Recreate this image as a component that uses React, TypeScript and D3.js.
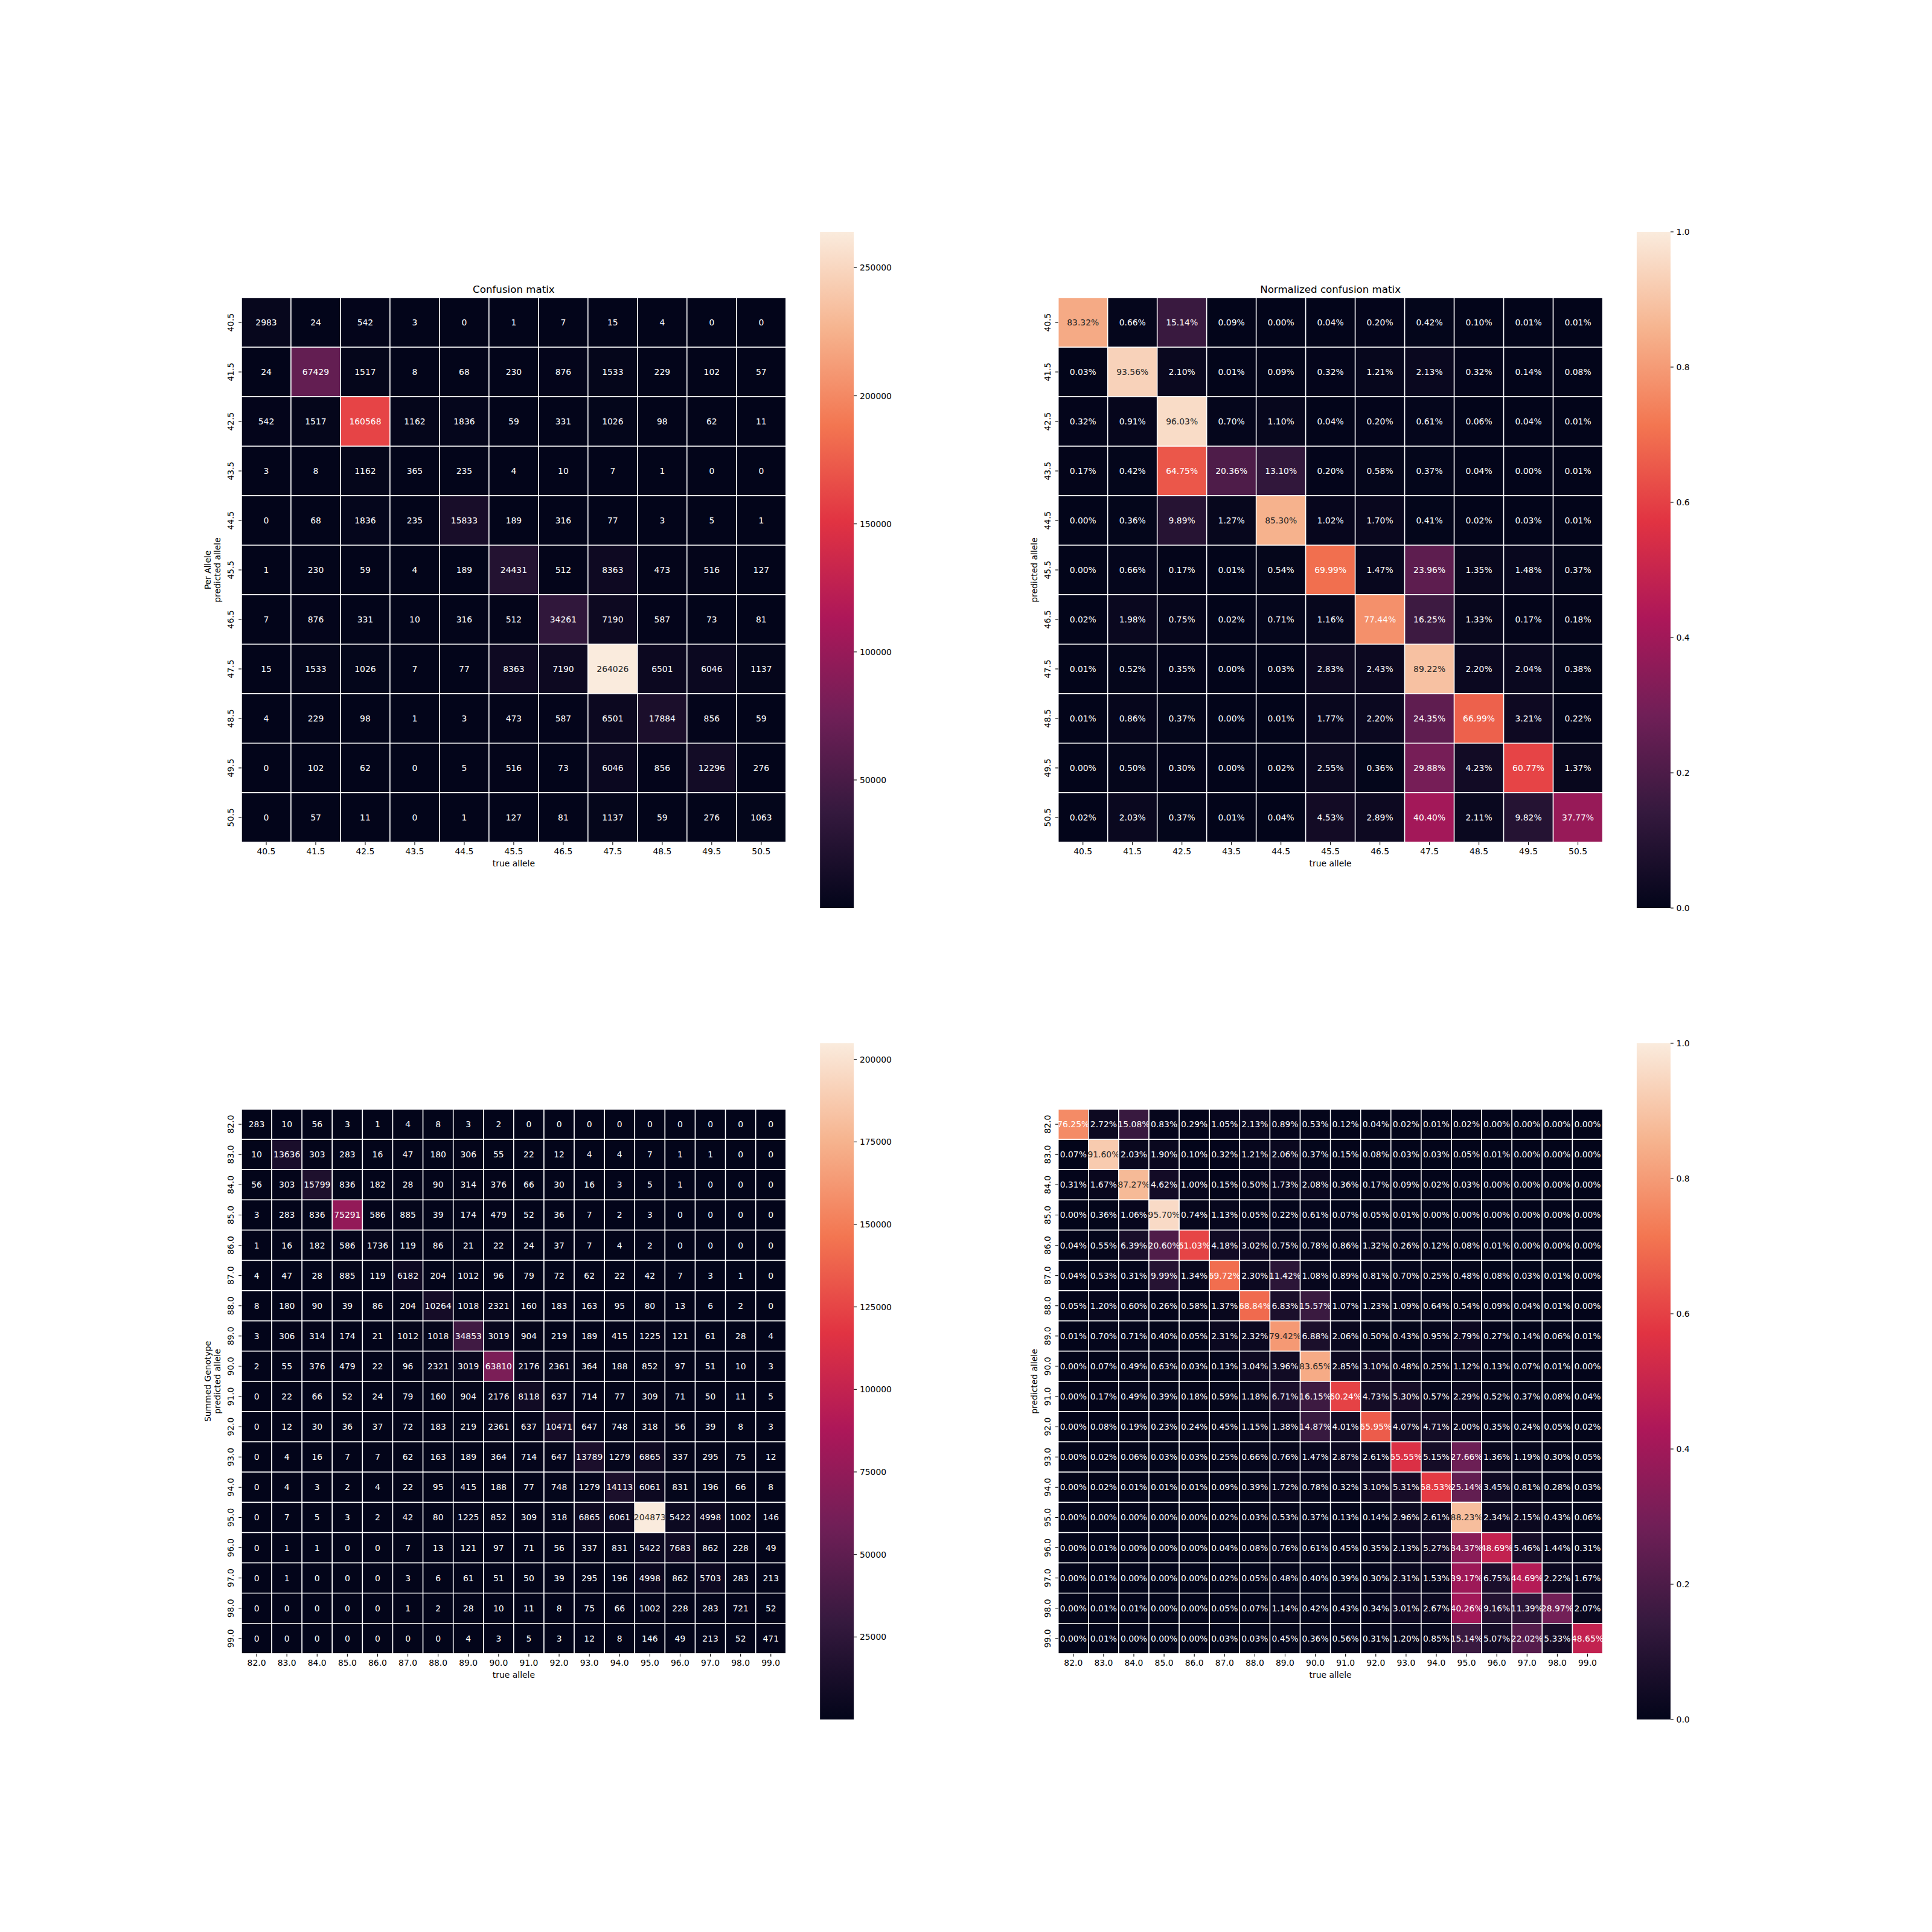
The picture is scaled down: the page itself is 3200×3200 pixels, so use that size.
import React from 'react';
import * as d3 from 'd3';

// allele bins
const perAlleleLabels = ['40.5', '41.5', '42.5', '43.5', '44.5', '45.5', '46.5', '47.5', '48.5', '49.5', '50.5'];
const summedLabels = ['82.0', '83.0', '84.0', '85.0', '86.0', '87.0', '88.0', '89.0', '90.0',
  '91.0', '92.0', '93.0', '94.0', '95.0', '96.0', '97.0', '98.0', '99.0'];

// rows = predicted allele, columns = true allele
const perAlleleCounts = [
  [2983, 24, 542, 3, 0, 1, 7, 15, 4, 0, 0],
  [24, 67429, 1517, 8, 68, 230, 876, 1533, 229, 102, 57],
  [542, 1517, 160568, 1162, 1836, 59, 331, 1026, 98, 62, 11],
  [3, 8, 1162, 365, 235, 4, 10, 7, 1, 0, 0],
  [0, 68, 1836, 235, 15833, 189, 316, 77, 3, 5, 1],
  [1, 230, 59, 4, 189, 24431, 512, 8363, 473, 516, 127],
  [7, 876, 331, 10, 316, 512, 34261, 7190, 587, 73, 81],
  [15, 1533, 1026, 7, 77, 8363, 7190, 264026, 6501, 6046, 1137],
  [4, 229, 98, 1, 3, 473, 587, 6501, 17884, 856, 59],
  [0, 102, 62, 0, 5, 516, 73, 6046, 856, 12296, 276],
  [0, 57, 11, 0, 1, 127, 81, 1137, 59, 276, 1063],
];

// percentages
const perAlleleNorm = [
  [83.32, 0.66, 15.14, 0.09, 0.00, 0.04, 0.20, 0.42, 0.10, 0.01, 0.01],
  [0.03, 93.56, 2.10, 0.01, 0.09, 0.32, 1.21, 2.13, 0.32, 0.14, 0.08],
  [0.32, 0.91, 96.03, 0.70, 1.10, 0.04, 0.20, 0.61, 0.06, 0.04, 0.01],
  [0.17, 0.42, 64.75, 20.36, 13.10, 0.20, 0.58, 0.37, 0.04, 0.00, 0.01],
  [0.00, 0.36, 9.89, 1.27, 85.30, 1.02, 1.70, 0.41, 0.02, 0.03, 0.01],
  [0.00, 0.66, 0.17, 0.01, 0.54, 69.99, 1.47, 23.96, 1.35, 1.48, 0.37],
  [0.02, 1.98, 0.75, 0.02, 0.71, 1.16, 77.44, 16.25, 1.33, 0.17, 0.18],
  [0.01, 0.52, 0.35, 0.00, 0.03, 2.83, 2.43, 89.22, 2.20, 2.04, 0.38],
  [0.01, 0.86, 0.37, 0.00, 0.01, 1.77, 2.20, 24.35, 66.99, 3.21, 0.22],
  [0.00, 0.50, 0.30, 0.00, 0.02, 2.55, 0.36, 29.88, 4.23, 60.77, 1.37],
  [0.02, 2.03, 0.37, 0.01, 0.04, 4.53, 2.89, 40.40, 2.11, 9.82, 37.77],
];

const summedCounts = [
  [283, 10, 56, 3, 1, 4, 8, 3, 2, 0, 0, 0, 0, 0, 0, 0, 0, 0],
  [10, 13636, 303, 283, 16, 47, 180, 306, 55, 22, 12, 4, 4, 7, 1, 1, 0, 0],
  [56, 303, 15799, 836, 182, 28, 90, 314, 376, 66, 30, 16, 3, 5, 1, 0, 0, 0],
  [3, 283, 836, 75291, 586, 885, 39, 174, 479, 52, 36, 7, 2, 3, 0, 0, 0, 0],
  [1, 16, 182, 586, 1736, 119, 86, 21, 22, 24, 37, 7, 4, 2, 0, 0, 0, 0],
  [4, 47, 28, 885, 119, 6182, 204, 1012, 96, 79, 72, 62, 22, 42, 7, 3, 1, 0],
  [8, 180, 90, 39, 86, 204, 10264, 1018, 2321, 160, 183, 163, 95, 80, 13, 6, 2, 0],
  [3, 306, 314, 174, 21, 1012, 1018, 34853, 3019, 904, 219, 189, 415, 1225, 121, 61, 28, 4],
  [2, 55, 376, 479, 22, 96, 2321, 3019, 63810, 2176, 2361, 364, 188, 852, 97, 51, 10, 3],
  [0, 22, 66, 52, 24, 79, 160, 904, 2176, 8118, 637, 714, 77, 309, 71, 50, 11, 5],
  [0, 12, 30, 36, 37, 72, 183, 219, 2361, 637, 10471, 647, 748, 318, 56, 39, 8, 3],
  [0, 4, 16, 7, 7, 62, 163, 189, 364, 714, 647, 13789, 1279, 6865, 337, 295, 75, 12],
  [0, 4, 3, 2, 4, 22, 95, 415, 188, 77, 748, 1279, 14113, 6061, 831, 196, 66, 8],
  [0, 7, 5, 3, 2, 42, 80, 1225, 852, 309, 318, 6865, 6061, 204873, 5422, 4998, 1002, 146],
  [0, 1, 1, 0, 0, 7, 13, 121, 97, 71, 56, 337, 831, 5422, 7683, 862, 228, 49],
  [0, 1, 0, 0, 0, 3, 6, 61, 51, 50, 39, 295, 196, 4998, 862, 5703, 283, 213],
  [0, 0, 0, 0, 0, 1, 2, 28, 10, 11, 8, 75, 66, 1002, 228, 283, 721, 52],
  [0, 0, 0, 0, 0, 0, 0, 4, 3, 5, 3, 12, 8, 146, 49, 213, 52, 471],
];

const summedNorm = [
  [76.25, 2.72, 15.08, 0.83, 0.29, 1.05, 2.13, 0.89, 0.53, 0.12, 0.04, 0.02, 0.01, 0.02, 0.00, 0.00, 0.00, 0.00],
  [0.07, 91.60, 2.03, 1.90, 0.10, 0.32, 1.21, 2.06, 0.37, 0.15, 0.08, 0.03, 0.03, 0.05, 0.01, 0.00, 0.00, 0.00],
  [0.31, 1.67, 87.27, 4.62, 1.00, 0.15, 0.50, 1.73, 2.08, 0.36, 0.17, 0.09, 0.02, 0.03, 0.00, 0.00, 0.00, 0.00],
  [0.00, 0.36, 1.06, 95.70, 0.74, 1.13, 0.05, 0.22, 0.61, 0.07, 0.05, 0.01, 0.00, 0.00, 0.00, 0.00, 0.00, 0.00],
  [0.04, 0.55, 6.39, 20.60, 61.03, 4.18, 3.02, 0.75, 0.78, 0.86, 1.32, 0.26, 0.12, 0.08, 0.01, 0.00, 0.00, 0.00],
  [0.04, 0.53, 0.31, 9.99, 1.34, 69.72, 2.30, 11.42, 1.08, 0.89, 0.81, 0.70, 0.25, 0.48, 0.08, 0.03, 0.01, 0.00],
  [0.05, 1.20, 0.60, 0.26, 0.58, 1.37, 68.84, 6.83, 15.57, 1.07, 1.23, 1.09, 0.64, 0.54, 0.09, 0.04, 0.01, 0.00],
  [0.01, 0.70, 0.71, 0.40, 0.05, 2.31, 2.32, 79.42, 6.88, 2.06, 0.50, 0.43, 0.95, 2.79, 0.27, 0.14, 0.06, 0.01],
  [0.00, 0.07, 0.49, 0.63, 0.03, 0.13, 3.04, 3.96, 83.65, 2.85, 3.10, 0.48, 0.25, 1.12, 0.13, 0.07, 0.01, 0.00],
  [0.00, 0.17, 0.49, 0.39, 0.18, 0.59, 1.18, 6.71, 16.15, 60.24, 4.73, 5.30, 0.57, 2.29, 0.52, 0.37, 0.08, 0.04],
  [0.00, 0.08, 0.19, 0.23, 0.24, 0.45, 1.15, 1.38, 14.87, 4.01, 65.95, 4.07, 4.71, 2.00, 0.35, 0.24, 0.05, 0.02],
  [0.00, 0.02, 0.06, 0.03, 0.03, 0.25, 0.66, 0.76, 1.47, 2.87, 2.61, 55.55, 5.15, 27.66, 1.36, 1.19, 0.30, 0.05],
  [0.00, 0.02, 0.01, 0.01, 0.01, 0.09, 0.39, 1.72, 0.78, 0.32, 3.10, 5.31, 58.53, 25.14, 3.45, 0.81, 0.28, 0.03],
  [0.00, 0.00, 0.00, 0.00, 0.00, 0.02, 0.03, 0.53, 0.37, 0.13, 0.14, 2.96, 2.61, 88.23, 2.34, 2.15, 0.43, 0.06],
  [0.00, 0.01, 0.00, 0.00, 0.00, 0.04, 0.08, 0.76, 0.61, 0.45, 0.35, 2.13, 5.27, 34.37, 48.69, 5.46, 1.44, 0.31],
  [0.00, 0.01, 0.00, 0.00, 0.00, 0.02, 0.05, 0.48, 0.40, 0.39, 0.30, 2.31, 1.53, 39.17, 6.75, 44.69, 2.22, 1.67],
  [0.00, 0.01, 0.01, 0.00, 0.00, 0.05, 0.07, 1.14, 0.42, 0.43, 0.34, 3.01, 2.67, 40.26, 9.16, 11.39, 28.97, 2.07],
  [0.00, 0.01, 0.00, 0.00, 0.00, 0.03, 0.03, 0.45, 0.36, 0.56, 0.31, 1.20, 0.85, 15.14, 5.07, 22.02, 5.33, 48.65],
];

const perAlleleTicks = [50000, 100000, 150000, 200000, 250000];
const summedTicks = [25000, 50000, 75000, 100000, 125000, 150000, 175000, 200000];
const normTicks = [0, 0.2, 0.4, 0.6, 0.8, 1.0];

// approximation of seaborn "rocket"
const rocketStops = [0, 1 / 7, 2 / 7, 3 / 7, 4 / 7, 5 / 7, 6 / 7, 1];
const rocketColors = ['#03051a', '#35193e', '#701f57', '#ad1759', '#e13342', '#f37651', '#f6b48f', '#faebdd'];
const rocket = d3.scaleLinear<string>().domain(rocketStops).range(rocketColors)
  .interpolate(d3.interpolateRgb).clamp(true);

const FONT = 'DejaVu Sans, sans-serif';
const FS = 13.9;
const AX_W = 1127.27;
const AX_H = 1120;
const TICK = 4.86;

function luminance(c: string) {
  const { r, g, b } = d3.rgb(c);
  const f = (x: number) => {
    x /= 255;
    return x <= 0.03928 ? x / 12.92 : Math.pow((x + 0.055) / 1.055, 2.4);
  };
  return 0.2126 * f(r) + 0.7152 * f(g) + 0.0722 * f(b);
}

function Heatmap({ id, x0, y0, labels, values, pct, vmax, ticks, title, ylabel }: any) {
  const side = AX_W * 0.8;
  const top = y0 + (AX_H - side) / 2;
  const x = d3.scaleBand().domain(labels).range([x0, x0 + side]);
  const y = d3.scaleBand().domain(labels).range([top, top + side]);
  const bottom = top + side;
  const norm = (v: number) => (pct ? v / 100 : v / vmax);

  const cbX = x0 + AX_W * 0.85;
  const cbW = AX_H / 20;
  const cb = d3.scaleLinear().domain(pct ? [0, 1] : [0, vmax]).range([y0 + AX_H, y0]);
  const tickFmt = pct ? d3.format('.1f') : d3.format('d');

  const ylabelX = x0 - TICK - TICK - 16.2 - 5.56 - 3.3;
  const lineH = 16.5;

  return (
    <g fontFamily={FONT}>
      {values.map((row: number[], i: number) =>
        row.map((v: number, j: number) => {
          const fill = rocket(norm(v));
          const txt = luminance(fill) > 0.408 ? '#262626' : '#ffffff';
          return (
            <g key={`${i}-${j}`}>
              <rect x={x(labels[j])} y={y(labels[i])} width={x.bandwidth()} height={y.bandwidth()}
                fill={fill} stroke="#ffffff" strokeWidth={1.5} />
              <text x={x(labels[j])! + x.bandwidth() / 2} y={y(labels[i])! + y.bandwidth() / 2}
                textAnchor="middle" dominantBaseline="central" fontSize={FS} fill={txt}>
                {pct ? `${v.toFixed(2)}%` : String(v)}
              </text>
            </g>
          );
        })
      )}
      {/* x axis */}
      {labels.map((l: string) => {
        const cx = x(l)! + x.bandwidth() / 2;
        return (
          <g key={'x' + l}>
            <line x1={cx} x2={cx} y1={bottom} y2={bottom + TICK} stroke="#000" strokeWidth={1.1} />
            <text x={cx} y={bottom + 2 * TICK + 10.6} textAnchor="middle" fontSize={FS} fill="#000">{l}</text>
          </g>
        );
      })}
      <text x={x0 + side / 2} y={bottom + 39.8} textAnchor="middle" fontSize={FS} fill="#000">true allele</text>
      {/* y axis */}
      {labels.map((l: string) => {
        const cy = y(l)! + y.bandwidth() / 2;
        return (
          <g key={'y' + l}>
            <line x1={x0 - TICK} x2={x0} y1={cy} y2={cy} stroke="#000" strokeWidth={1.1} />
            <text transform={`translate(${x0 - 2 * TICK - 3.3},${cy}) rotate(-90)`} textAnchor="middle"
              fontSize={FS} fill="#000">{l}</text>
          </g>
        );
      })}
      <text transform={`translate(${ylabelX},${top + side / 2}) rotate(-90)`} textAnchor="middle"
        fontSize={FS} fill="#000">
        {ylabel.map((s: string, k: number) => (
          <tspan key={k} x={0} y={-(ylabel.length - 1 - k) * lineH}>{s}</tspan>
        ))}
      </text>
      {title && (
        <text x={x0 + side / 2} y={top - 8.33} textAnchor="middle" fontSize={16.67} fill="#000">{title}</text>
      )}
      {/* colorbar */}
      <defs>
        <linearGradient id={id} x1="0" y1="1" x2="0" y2="0">
          {rocketStops.map((s, k) => (
            <stop key={k} offset={s} stopColor={rocketColors[k]} />
          ))}
        </linearGradient>
      </defs>
      <rect x={cbX} y={y0} width={cbW} height={AX_H} fill={`url(#${id})`} />
      {ticks.map((t: number) => (
        <g key={'c' + t}>
          <line x1={cbX + cbW} x2={cbX + cbW + TICK} y1={cb(t)} y2={cb(t)} stroke="#000" strokeWidth={1.1} />
          <text x={cbX + cbW + 2 * TICK} y={cb(t)} dominantBaseline="central" fontSize={FS} fill="#000">
            {tickFmt(t)}
          </text>
        </g>
      ))}
    </g>
  );
}

export default function App() {
  const left = 400;
  const colGap = AX_W * 1.2;
  const topY = 384;
  const rowGap = AX_H * 1.2;
  return (
    <svg width={3200} height={3200} style={{ position: 'absolute', left: 0, top: 0, background: '#fff' }}>
      <rect width={3200} height={3200} fill="#ffffff" />
      <Heatmap id="cb1" x0={left} y0={topY} labels={perAlleleLabels} values={perAlleleCounts}
        pct={false} vmax={d3.max(perAlleleCounts.flat())} ticks={perAlleleTicks}
        title="Confusion matix" ylabel={['Per Allele', 'predicted allele']} />
      <Heatmap id="cb2" x0={left + colGap} y0={topY} labels={perAlleleLabels} values={perAlleleNorm}
        pct={true} vmax={1} ticks={normTicks}
        title="Normalized confusion matix" ylabel={['predicted allele']} />
      <Heatmap id="cb3" x0={left} y0={topY + rowGap} labels={summedLabels} values={summedCounts}
        pct={false} vmax={d3.max(summedCounts.flat())} ticks={summedTicks}
        title={null} ylabel={['Summed Genotype', 'predicted allele']} />
      <Heatmap id="cb4" x0={left + colGap} y0={topY + rowGap} labels={summedLabels} values={summedNorm}
        pct={true} vmax={1} ticks={normTicks}
        title={null} ylabel={['predicted allele']} />
    </svg>
  );
}
